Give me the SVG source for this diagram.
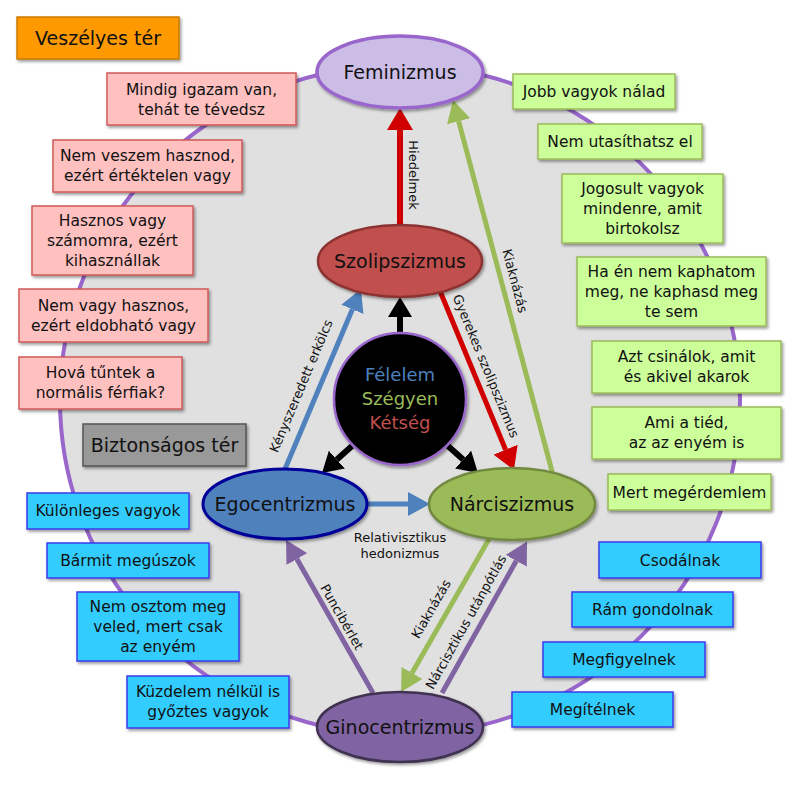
<svg xmlns="http://www.w3.org/2000/svg" width="800" height="800" viewBox="0 0 800 800">
<defs>
<filter id="sh" x="-20%" y="-20%" width="140%" height="150%">
<feDropShadow dx="1.5" dy="2" stdDeviation="1.8" flood-color="#000" flood-opacity="0.4"/>
</filter>
<marker id="mk" markerUnits="userSpaceOnUse" viewBox="0 0 20 24" refX="0" refY="12" markerWidth="20" markerHeight="24" orient="auto"><path d="M0,0 L20,12 L0,24 Z" fill="#000"/></marker>
<marker id="mr" markerUnits="userSpaceOnUse" viewBox="0 0 22 26" refX="0" refY="13" markerWidth="22" markerHeight="26" orient="auto"><path d="M0,0 L22,13 L0,26 Z" fill="#d00000"/></marker>
<marker id="mb" markerUnits="userSpaceOnUse" viewBox="0 0 22 24" refX="0" refY="12" markerWidth="22" markerHeight="24" orient="auto"><path d="M0,0 L22,12 L0,24 Z" fill="#4f81bd"/></marker>
<marker id="mg" markerUnits="userSpaceOnUse" viewBox="0 0 22 24" refX="0" refY="12" markerWidth="22" markerHeight="24" orient="auto"><path d="M0,0 L22,12 L0,24 Z" fill="#9bbb59"/></marker>
<marker id="mp" markerUnits="userSpaceOnUse" viewBox="0 0 22 24" refX="0" refY="12" markerWidth="22" markerHeight="24" orient="auto"><path d="M0,0 L22,12 L0,24 Z" fill="#8064a2"/></marker>
</defs>
<style>
text{font-family:"DejaVu Sans","Liberation Sans",sans-serif;fill:#111;text-anchor:middle}
.bx{font-size:15.5px}
.el{font-size:19px}
.lb{font-size:13px}
.pink{fill:#ffc0c0;stroke:#d05a5a;stroke-width:1.5;filter:url(#sh)}
.green{fill:#ccff99;stroke:#9bbb59;stroke-width:1.5;filter:url(#sh)}
.blue{fill:#33ccff;stroke:#3a3aee;stroke-width:1.5;filter:url(#sh)}
.c{fill:none;stroke-linecap:butt}
</style>
<rect width="800" height="800" fill="#fff"/>
<ellipse id="space" cx="400" cy="400" rx="340" ry="335" fill="#e0e0e0" stroke="#9966cc" stroke-width="4"/>

<g id="connectors">
<line class="c" x1="400" y1="333" x2="400" y2="317" stroke="#000" stroke-width="6" marker-end="url(#mk)"/>
<line class="c" x1="352" y1="446" x2="336.9" y2="459.6" stroke="#000" stroke-width="6" marker-end="url(#mk)"/>
<line class="c" x1="448" y1="446" x2="463.1" y2="459.6" stroke="#000" stroke-width="6" marker-end="url(#mk)"/>
<line class="c" x1="400" y1="225" x2="400" y2="130" stroke="#d00000" stroke-width="6" marker-end="url(#mr)"/>
<line class="c" x1="285" y1="469" x2="352.4" y2="309.3" stroke="#4f81bd" stroke-width="5" marker-end="url(#mb)"/>
<line class="c" x1="440" y1="291" x2="505.6" y2="449.7" stroke="#d00000" stroke-width="5" marker-end="url(#mr)"/>
<line class="c" x1="553" y1="475" x2="458.7" y2="121.3" stroke="#9bbb59" stroke-width="5" marker-end="url(#mg)"/>
<line class="c" x1="367" y1="504" x2="408" y2="504" stroke="#4f81bd" stroke-width="5" marker-end="url(#mb)"/>
<line class="c" x1="373" y1="693" x2="296.9" y2="559.1" stroke="#8064a2" stroke-width="5" marker-end="url(#mp)"/>
<line class="c" x1="489" y1="539" x2="412" y2="672.9" stroke="#9bbb59" stroke-width="5" marker-end="url(#mg)"/>
<line class="c" x1="442" y1="693" x2="516.3" y2="560.8" stroke="#8064a2" stroke-width="5" marker-end="url(#mp)"/>
<text class="lb" dy="0.35em" transform="translate(414,175) rotate(90)">Hiedelmek</text>
<text class="lb" dy="0.35em" transform="translate(301,386) rotate(-67.1)">Kényszeredett erkölcs</text>
<text class="lb" dy="0.35em" transform="translate(486,366) rotate(67.5)">Gyerekes szolipszizmus</text>
<text class="lb" dy="0.35em" transform="translate(515,281) rotate(75.1)">Kiaknázás</text>
<text class="lb" x="400" y="542">Relativisztikus</text>
<text class="lb" x="400" y="558">hedonizmus</text>
<text class="lb" dy="0.35em" transform="translate(342,617) rotate(60.4)">Puncibérlet</text>
<text class="lb" dy="0.35em" transform="translate(431,609) rotate(-60.1)">Kiaknázás</text>
<text class="lb" dy="0.35em" transform="translate(466,622) rotate(-60.8)">Nárcisztikus utánpótlás</text>
</g>

<g id="veszelyes"><rect x="17" y="17" width="162" height="42" fill="#ff9900" stroke="#cc7a00" stroke-width="1.5" filter="url(#sh)"/><text x="98" y="44.5" style="font-size:19px">Veszélyes tér</text></g>
<g id="biztonsagos"><rect x="83" y="424" width="163" height="42" fill="#999999" stroke="#555" stroke-width="1.5" filter="url(#sh)"/><text x="164.5" y="451.5" style="font-size:19px">Biztonságos tér</text></g>

<g id="p1"><rect class="pink" x="107" y="73" width="189" height="52"/><text class="bx" x="201.5" y="95">Mindig igazam van,</text><text class="bx" x="201.5" y="115">tehát te tévedsz</text></g>
<g id="p2"><rect class="pink" x="53" y="140" width="189" height="52"/><text class="bx" x="147.5" y="161">Nem veszem hasznod,</text><text class="bx" x="147.5" y="181">ezért értéktelen vagy</text></g>
<g id="p3"><rect class="pink" x="32" y="206" width="161" height="69"/><text class="bx" x="112.5" y="226">Hasznos vagy</text><text class="bx" x="112.5" y="246">számomra, ezért</text><text class="bx" x="112.5" y="266">kihasznállak</text></g>
<g id="p4"><rect class="pink" x="19" y="289" width="189" height="53"/><text class="bx" x="113.5" y="311">Nem vagy hasznos,</text><text class="bx" x="113.5" y="331">ezért eldobható vagy</text></g>
<g id="p5"><rect class="pink" x="19" y="357" width="163" height="52"/><text class="bx" x="100.5" y="378">Hová tűntek a</text><text class="bx" x="100.5" y="398">normális férfiak?</text></g>

<g id="g1"><rect class="green" x="513" y="74" width="162" height="35"/><text class="bx" x="594" y="97">Jobb vagyok nálad</text></g>
<g id="g2"><rect class="green" x="538" y="124" width="164" height="35"/><text class="bx" x="620" y="147">Nem utasíthatsz el</text></g>
<g id="g3"><rect class="green" x="562" y="174" width="161" height="69"/><text class="bx" x="642.5" y="194">Jogosult vagyok</text><text class="bx" x="642.5" y="214">mindenre, amit</text><text class="bx" x="642.5" y="234">birtokolsz</text></g>
<g id="g4"><rect class="green" x="577" y="257" width="189" height="69"/><text class="bx" x="671.5" y="277">Ha én nem kaphatom</text><text class="bx" x="671.5" y="297">meg, ne kaphasd meg</text><text class="bx" x="671.5" y="317">te sem</text></g>
<g id="g5"><rect class="green" x="592" y="341" width="189" height="52"/><text class="bx" x="686.5" y="362">Azt csinálok, amit</text><text class="bx" x="686.5" y="382">és akivel akarok</text></g>
<g id="g6"><rect class="green" x="592" y="407" width="189" height="52"/><text class="bx" x="686.5" y="428">Ami a tiéd,</text><text class="bx" x="686.5" y="448">az az enyém is</text></g>
<g id="g7"><rect class="green" x="608" y="474" width="163" height="36"/><text class="bx" x="689.5" y="497.5">Mert megérdemlem</text></g>

<g id="b1"><rect class="blue" x="27" y="493" width="162" height="36"/><text class="bx" x="108" y="516">Különleges vagyok</text></g>
<g id="b2"><rect class="blue" x="47" y="543" width="162" height="35"/><text class="bx" x="128" y="566">Bármit megúszok</text></g>
<g id="b3"><rect class="blue" x="77" y="592" width="162" height="69"/><text class="bx" x="158" y="612">Nem osztom meg</text><text class="bx" x="158" y="632">veled, mert csak</text><text class="bx" x="158" y="652">az enyém</text></g>
<g id="b4"><rect class="blue" x="127" y="676" width="162" height="52"/><text class="bx" x="208" y="697">Küzdelem nélkül is</text><text class="bx" x="208" y="717">győztes vagyok</text></g>
<g id="b5"><rect class="blue" x="599" y="542" width="162" height="36"/><text class="bx" x="680" y="565.5">Csodálnak</text></g>
<g id="b6"><rect class="blue" x="572" y="592" width="161" height="35"/><text class="bx" x="652.5" y="615">Rám gondolnak</text></g>
<g id="b7"><rect class="blue" x="543" y="642" width="162" height="35"/><text class="bx" x="624" y="665">Megfigyelnek</text></g>
<g id="b8"><rect class="blue" x="512" y="692" width="161" height="35"/><text class="bx" x="592.5" y="715">Megítélnek</text></g>

<g id="feminizmus"><ellipse cx="400" cy="72" rx="83" ry="36" fill="#ccbde6" stroke="#9966cc" stroke-width="3.5" filter="url(#sh)"/><text class="el" x="400" y="79">Feminizmus</text></g>
<g id="szolipszizmus"><ellipse cx="400" cy="261" rx="82" ry="36" fill="#c0504d" stroke="#8c3230" stroke-width="2.5" filter="url(#sh)"/><text class="el" x="400" y="268">Szolipszizmus</text></g>
<g id="center"><circle cx="400" cy="399" r="66" fill="#000" stroke="#9966cc" stroke-width="2.5" filter="url(#sh)"/><text class="el" x="400" y="381" style="fill:#4f81bd;font-size:18px">Félelem</text><text class="el" x="400" y="405" style="fill:#9bbb59;font-size:18px">Szégyen</text><text class="el" x="400" y="429" style="fill:#c0504d;font-size:18px">Kétség</text></g>
<g id="egocentrizmus"><ellipse cx="285" cy="504" rx="82" ry="35" fill="#4f81bd" stroke="#000099" stroke-width="3" filter="url(#sh)"/><text class="el" x="285" y="511">Egocentrizmus</text></g>
<g id="narciszizmus"><ellipse cx="512" cy="504" rx="83" ry="36" fill="#9bbb59" stroke="#71893f" stroke-width="2.5" filter="url(#sh)"/><text class="el" x="512" y="511">Nárciszizmus</text></g>
<g id="ginocentrizmus"><ellipse cx="400" cy="727" rx="83" ry="35" fill="#8064a2" stroke="#3f3151" stroke-width="2.5" filter="url(#sh)"/><text class="el" x="400" y="734">Ginocentrizmus</text></g>
</svg>
